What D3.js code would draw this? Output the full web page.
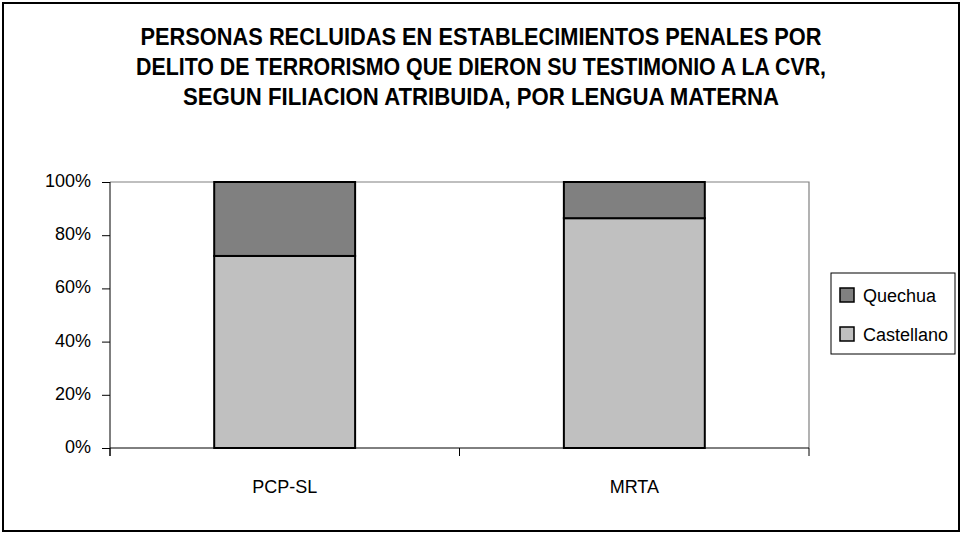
<!DOCTYPE html>
<html>
<head>
<meta charset="utf-8">
<script src="https://cdn.jsdelivr.net/npm/d3@7"></script>
<style>
  body { margin: 0; background: #fff; }
  svg text { font-family: "Liberation Sans", Arial, sans-serif; }
</style>
</head>
<body>
<div id="chart"></div>
<script>
// data
var categories = ["PCP-SL", "MRTA"];
var castellano = [72.2, 86.4];
var quechua = [27.8, 13.6];
var seriesNames = ["Castellano", "Quechua"];
var yTicks = [0, 20, 40, 60, 80, 100];
var titleLines = [
  "PERSONAS RECLUIDAS EN ESTABLECIMIENTOS PENALES POR",
  "DELITO DE TERRORISMO QUE DIERON SU TESTIMONIO A LA CVR,",
  "SEGUN FILIACION ATRIBUIDA, POR LENGUA MATERNA"
];
var titleWidths = [681, 690, 596];

var W = 962, H = 535;
var colors = {Castellano: "#c0c0c0", Quechua: "#808080"};

var svg = d3.select("#chart").append("svg")
    .attr("width", W)
    .attr("height", H);

// outer frame
svg.append("rect")
    .attr("x", 3).attr("y", 3)
    .attr("width", 956).attr("height", 528)
    .attr("fill", "#fff")
    .attr("stroke", "#000")
    .attr("stroke-width", 2);

// title
svg.append("g").selectAll("text")
  .data(titleLines)
  .enter().append("text")
    .attr("x", 481)
    .attr("y", function(d, i) { return 45 + i * 30; })
    .attr("text-anchor", "middle")
    .attr("textLength", function(d, i) { return titleWidths[i]; })
    .attr("lengthAdjust", "spacingAndGlyphs")
    .style("font-size", "23px")
    .style("font-weight", "bold")
    .text(function(d) { return d; });

var plot = {left: 110, right: 809, top: 182, bottom: 448};

var x = d3.scaleBand()
    .domain(categories)
    .range([plot.left, plot.right])
    .paddingInner(0.597)
    .paddingOuter(0.298);

var xOuter = d3.scaleBand()
    .domain(categories)
    .range([plot.left, plot.right]);

var y = d3.scaleLinear()
    .domain([0, 100])
    .range([plot.bottom, plot.top]);

// plot area border (top / right)
svg.append("path")
    .attr("d", "M" + plot.left + "," + y(100) + "H" + plot.right + "V" + plot.bottom)
    .attr("fill", "none")
    .attr("stroke", "#808080")
    .attr("stroke-width", 1.2);

// stacked data
var rows = categories.map(function(c, i) {
  return {cat: c, Castellano: castellano[i], Quechua: quechua[i]};
});
var stack = d3.stack().keys(seriesNames)(rows);

svg.append("g").selectAll("g")
  .data(stack)
  .enter().append("g")
    .attr("fill", function(d) { return colors[d.key]; })
  .selectAll("rect")
  .data(function(d) { return d; })
  .enter().append("rect")
    .attr("x", function(d) { return x(d.data.cat); })
    .attr("width", x.bandwidth())
    .attr("y", function(d) { return y(d[1]); })
    .attr("height", function(d) { return y(d[0]) - y(d[1]); })
    .attr("stroke", "#000")
    .attr("stroke-width", 2);

// y axis
var yAxis = svg.append("g")
    .attr("transform", "translate(" + plot.left + ",0)")
    .call(d3.axisLeft(y).tickValues(yTicks).tickSize(8).tickPadding(10)
      .tickFormat(function(d) { return d + "%"; }));
yAxis.select(".domain").attr("stroke", "#000").attr("d", "M0," + plot.top + "V" + (plot.bottom + 8));
yAxis.selectAll("line").attr("stroke", "#000");
yAxis.selectAll("text")
    .attr("fill", "#000")
    .attr("x", -19)
    .attr("dy", "0.25em")
    .style("font-size", "18px");

// x axis
var xAxis = svg.append("g")
    .attr("transform", "translate(0," + plot.bottom + ")");
xAxis.append("line")
    .attr("x1", plot.left).attr("x2", plot.right)
    .attr("stroke", "#000");
xAxis.selectAll(".tick")
  .data([plot.left].concat(categories.map(function(c) { return xOuter(c) + xOuter.bandwidth(); })))
  .enter().append("line")
    .attr("class", "tick")
    .attr("x1", function(d) { return d; }).attr("x2", function(d) { return d; })
    .attr("y1", 0).attr("y2", 8)
    .attr("stroke", "#000");
xAxis.selectAll("text")
  .data(categories)
  .enter().append("text")
    .attr("x", function(d) { return x(d) + x.bandwidth() / 2; })
    .attr("y", 45)
    .attr("text-anchor", "middle")
    .style("font-size", "18px")
    .text(function(d) { return d; });

// legend
var legend = svg.append("g");
legend.append("rect")
    .attr("x", 831).attr("y", 273)
    .attr("width", 124).attr("height", 81)
    .attr("fill", "#fff")
    .attr("stroke", "#000")
    .attr("stroke-width", 1);

var legendItems = ["Quechua", "Castellano"];
var li = legend.selectAll(".item")
  .data(legendItems)
  .enter().append("g")
    .attr("class", "item")
    .attr("transform", function(d, i) { return "translate(840," + (288 + i * 39) + ")"; });
li.append("rect")
    .attr("width", 14).attr("height", 14)
    .attr("fill", function(d) { return colors[d]; })
    .attr("stroke", "#000")
    .attr("stroke-width", 1.5);
li.append("text")
    .attr("x", 23)
    .attr("y", 14)
    .style("font-size", "18px")
    .text(function(d) { return d; });
</script>
</body>
</html>
